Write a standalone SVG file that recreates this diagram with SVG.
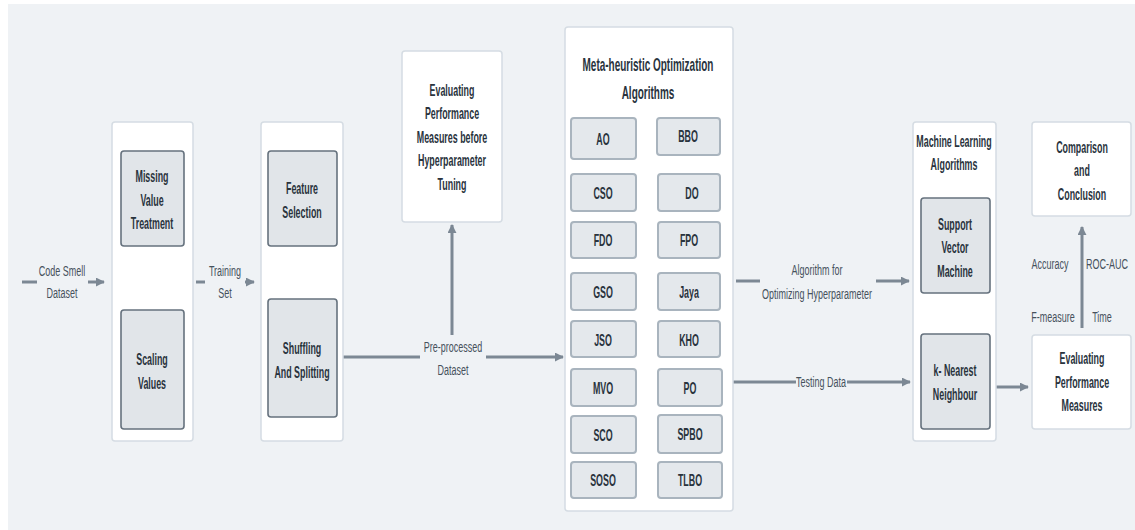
<svg xmlns="http://www.w3.org/2000/svg" width="1135" height="530" viewBox="0 0 1135 530">
<defs>
<style>
.bg{fill:#eff2f5}
.cont{fill:#ffffff;stroke:#d5dce3;stroke-width:1.5}
.inner{fill:#e1e5e9;stroke:#66727e;stroke-width:1.6}
.alg{fill:#e4e8ec;stroke:#a9b4be;stroke-width:2}
.t{font-family:"Liberation Sans",Arial,sans-serif;font-weight:bold;font-size:16px;fill:#29333d;text-anchor:middle;dominant-baseline:central}
.tt{font-size:18px}
.l{font-family:"Liberation Sans",Arial,sans-serif;font-size:15px;fill:#46515c;text-anchor:middle;dominant-baseline:central}
.c{stroke:#7c8894;stroke-width:3;fill:none}
</style>
<marker id="ah" viewBox="0 0 10 10" refX="9" refY="5" markerWidth="9" markerHeight="9" markerUnits="userSpaceOnUse" orient="auto">
<path d="M0,0 L10,5 L0,10 z" fill="#7c8894"/>
</marker>
</defs>
<rect x="0" y="0" width="1135" height="530" fill="#ffffff"/>
<rect class="bg" x="8" y="4" width="1127" height="526"/>

<g id="connectors">
<line class="c" x1="22" y1="282" x2="37" y2="282"/>
<line class="c" x1="88" y1="282" x2="104" y2="282" marker-end="url(#ah)"/>
<line class="c" x1="152" y1="253" x2="152" y2="304" marker-end="url(#ah)"/>
<line class="c" x1="196" y1="282" x2="205" y2="282"/>
<line class="c" x1="245" y1="282" x2="254" y2="282" marker-end="url(#ah)"/>
<line class="c" x1="343" y1="357" x2="420" y2="357"/>
<line class="c" x1="486" y1="357" x2="563" y2="357" marker-end="url(#ah)"/>
<line class="c" x1="452" y1="335" x2="452" y2="225" marker-end="url(#ah)"/>
<line class="c" x1="736" y1="281" x2="760" y2="281"/>
<line class="c" x1="876" y1="281" x2="909" y2="281" marker-end="url(#ah)"/>
<line class="c" x1="732" y1="382" x2="796" y2="382"/>
<line class="c" x1="847" y1="382" x2="910" y2="382" marker-end="url(#ah)"/>
<line class="c" x1="996" y1="387" x2="1028" y2="387" marker-end="url(#ah)"/>
<line class="c" x1="1082" y1="328" x2="1082" y2="227" marker-end="url(#ah)"/>
<text class="l" transform="translate(62,271) scale(.6,1)">Code Smell</text>
<text class="l" transform="translate(62,293) scale(.6,1)">Dataset</text>
<text class="l" transform="translate(225,271) scale(.6,1)">Training</text>
<text class="l" transform="translate(225,293) scale(.6,1)">Set</text>
<text class="l" transform="translate(453,347) scale(.6,1)">Pre-processed</text>
<text class="l" transform="translate(453,370) scale(.6,1)">Dataset</text>
<text class="l" transform="translate(817,270) scale(.6,1)">Algorithm for</text>
<text class="l" transform="translate(817,294) scale(.6,1)">Optimizing Hyperparameter</text>
<text class="l" transform="translate(821,382) scale(.6,1)">Testing Data</text>
<text class="l" transform="translate(1050,264) scale(.6,1)">Accuracy</text>
<text class="l" transform="translate(1107,264) scale(.6,1)">ROC-AUC</text>
<text class="l" transform="translate(1053,317) scale(.6,1)">F-measure</text>
<text class="l" transform="translate(1102,317) scale(.6,1)">Time</text>
</g>

<g id="preprocessing">
<rect class="cont" x="112" y="122" width="81" height="319" rx="3"/>
<g id="missing-value">
<rect class="inner" x="121" y="151" width="63" height="95" rx="3"/>
<text class="t" transform="translate(152,176) scale(.555,1)">Missing</text>
<text class="t" transform="translate(152,200) scale(.555,1)">Value</text>
<text class="t" transform="translate(152,223) scale(.555,1)">Treatment</text>
</g>
<g id="scaling">
<rect class="inner" x="121" y="310" width="63" height="119" rx="3"/>
<text class="t" transform="translate(152,359) scale(.555,1)">Scaling</text>
<text class="t" transform="translate(152,383) scale(.555,1)">Values</text>
</g>
</g>

<g id="selection">
<rect class="cont" x="261" y="122" width="82" height="319" rx="3"/>
<g id="feature-selection">
<rect class="inner" x="268" y="151" width="69" height="95" rx="3"/>
<text class="t" transform="translate(302,188) scale(.555,1)">Feature</text>
<text class="t" transform="translate(302,212) scale(.555,1)">Selection</text>
</g>
<g id="shuffling">
<rect class="inner" x="268" y="299" width="69" height="118" rx="3"/>
<text class="t" transform="translate(302,348) scale(.555,1)">Shuffling</text>
<text class="t" transform="translate(302,372) scale(.555,1)">And Splitting</text>
</g>
</g>

<g id="eval-before">
<rect class="cont" x="402" y="51" width="100" height="171" rx="3"/>
<text class="t" transform="translate(452,90) scale(.555,1)">Evaluating</text>
<text class="t" transform="translate(452,113) scale(.555,1)">Performance</text>
<text class="t" transform="translate(452,137) scale(.555,1)">Measures before</text>
<text class="t" transform="translate(452,160) scale(.555,1)">Hyperparameter</text>
<text class="t" transform="translate(452,184) scale(.555,1)">Tuning</text>
</g>

<g id="meta-heuristic">
<rect class="cont" x="565" y="27" width="168" height="484" rx="3"/>
<text class="t tt" transform="translate(648,65) scale(.555,1)">Meta-heuristic Optimization</text>
<text class="t tt" transform="translate(648,93) scale(.555,1)">Algorithms</text>
<g id="AO"><rect class="alg" x="571" y="118" width="65" height="41" rx="3"/><text class="t" transform="translate(603,139) scale(.555,1)">AO</text></g>
<g id="BBO"><rect class="alg" x="657" y="118" width="63" height="37" rx="3"/><text class="t" transform="translate(688,136) scale(.555,1)">BBO</text></g>
<g id="CSO"><rect class="alg" x="571" y="174" width="65" height="37" rx="3"/><text class="t" transform="translate(603,193) scale(.555,1)">CSO</text></g>
<g id="DO"><rect class="alg" x="658" y="174" width="62" height="37" rx="3"/><text class="t" transform="translate(692,193) scale(.555,1)">DO</text></g>
<g id="FDO"><rect class="alg" x="571" y="222" width="65" height="36" rx="3"/><text class="t" transform="translate(603,240) scale(.555,1)">FDO</text></g>
<g id="FPO"><rect class="alg" x="658" y="222" width="62" height="36" rx="3"/><text class="t" transform="translate(689,240) scale(.555,1)">FPO</text></g>
<g id="GSO"><rect class="alg" x="571" y="273" width="65" height="37" rx="3"/><text class="t" transform="translate(603,292) scale(.555,1)">GSO</text></g>
<g id="Jaya"><rect class="alg" x="658" y="273" width="62" height="37" rx="3"/><text class="t" transform="translate(689,292) scale(.555,1)">Jaya</text></g>
<g id="JSO"><rect class="alg" x="571" y="321" width="65" height="36" rx="3"/><text class="t" transform="translate(603,340) scale(.555,1)">JSO</text></g>
<g id="KHO"><rect class="alg" x="658" y="321" width="62" height="36" rx="3"/><text class="t" transform="translate(689,340) scale(.555,1)">KHO</text></g>
<g id="MVO"><rect class="alg" x="571" y="369" width="65" height="37" rx="3"/><text class="t" transform="translate(603,388) scale(.555,1)">MVO</text></g>
<g id="PO"><rect class="alg" x="658" y="369" width="64" height="37" rx="3"/><text class="t" transform="translate(690,388) scale(.555,1)">PO</text></g>
<g id="SCO"><rect class="alg" x="571" y="416" width="65" height="37" rx="3"/><text class="t" transform="translate(603,435) scale(.555,1)">SCO</text></g>
<g id="SPBO"><rect class="alg" x="658" y="415" width="64" height="38" rx="3"/><text class="t" transform="translate(690,434) scale(.555,1)">SPBO</text></g>
<g id="SOSO"><rect class="alg" x="571" y="462" width="65" height="36" rx="3"/><text class="t" transform="translate(603,480) scale(.555,1)">SOSO</text></g>
<g id="TLBO"><rect class="alg" x="658" y="462" width="64" height="36" rx="3"/><text class="t" transform="translate(690,480) scale(.555,1)">TLBO</text></g>
</g>

<g id="ml-algorithms">
<rect class="cont" x="913" y="122" width="83" height="319" rx="3"/>
<text class="t" transform="translate(954,141) scale(.555,1)">Machine Learning</text>
<text class="t" transform="translate(954,164) scale(.555,1)">Algorithms</text>
<g id="svm">
<rect class="inner" x="921" y="198" width="69" height="95" rx="3"/>
<text class="t" transform="translate(955,224) scale(.555,1)">Support</text>
<text class="t" transform="translate(955,247) scale(.555,1)">Vector</text>
<text class="t" transform="translate(955,271) scale(.555,1)">Machine</text>
</g>
<g id="knn">
<rect class="inner" x="921" y="334" width="69" height="95" rx="3"/>
<text class="t" transform="translate(955,370) scale(.555,1)">k- Nearest</text>
<text class="t" transform="translate(955,394) scale(.555,1)">Neighbour</text>
</g>
</g>

<g id="comparison">
<rect class="cont" x="1032" y="122" width="99" height="94" rx="3"/>
<text class="t" transform="translate(1082,147) scale(.555,1)">Comparison</text>
<text class="t" transform="translate(1082,170) scale(.555,1)">and</text>
<text class="t" transform="translate(1082,194) scale(.555,1)">Conclusion</text>
</g>

<g id="eval-after">
<rect class="cont" x="1032" y="335" width="99" height="94" rx="3"/>
<text class="t" transform="translate(1082,358) scale(.555,1)">Evaluating</text>
<text class="t" transform="translate(1082,382) scale(.555,1)">Performance</text>
<text class="t" transform="translate(1082,405) scale(.555,1)">Measures</text>
</g>
</svg>
